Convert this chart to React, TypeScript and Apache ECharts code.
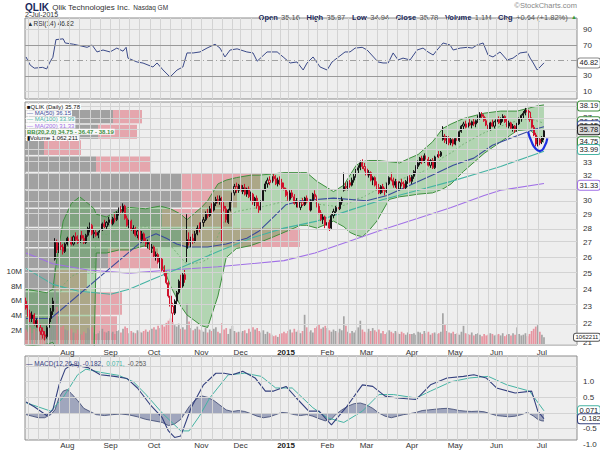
import React, { useEffect, useRef } from "react";
import * as echarts from "echarts";

// x = trading-day index: 0 = 3-Jul-2014 ... 251 = 2-Jul-2015
const monthStarts = [20, 41, 62, 85, 104, 126, 146, 165, 187, 208, 228, 250];
const monthLabels = ["Aug", "Sep", "Oct", "Nov", "Dec", "2015", "Feb", "Mar", "Apr", "May", "Jun", "Jul"];
const weekStarts = [1, 6, 11, 16, 21, 26, 31, 36, 41, 45, 50, 55, 60, 65, 70, 75, 80, 85, 90, 95, 100, 104, 109, 114, 119, 123, 127, 132, 137, 141, 146, 151, 156, 160, 165, 170, 175, 180, 185, 189, 194, 199, 204, 209, 214, 219, 224, 228, 233, 238, 243, 248];
const priceTicks = [21, 22, 23, 24, 25, 26, 27, 28, 29, 30, 31, 32, 33, 34, 35, 36, 37, 38];
const rsiTicks = [10, 30, 50, 70, 90];
const macdTicks = [-0.5, 0.5, 1];
const volTicks = [2, 4, 6, 8, 10];

// daily candles [open, high, low, close]
const jul14 = [
  [23.3, 23.5, 22.8, 22.9], [22.9, 23.1, 22.4, 22.6], [22.6, 22.8, 22.1, 22.3], [22.3, 22.7, 22.1, 22.5],
  [22.5, 22.6, 21.9, 22.0], [22.0, 22.3, 21.8, 22.2], [22.2, 22.4, 21.7, 21.8], [21.8, 22.0, 21.4, 21.6],
  [21.6, 21.8, 21.2, 21.4], [21.4, 21.6, 21.1, 21.3], [21.3, 21.9, 21.2, 21.8], [21.8, 22.4, 21.7, 22.3],
  [22.3, 22.9, 22.1, 22.7], [22.7, 23.5, 22.5, 23.3], [25.9, 27.3, 25.8, 27.0], [27.0, 27.2, 26.3, 26.5],
  [26.5, 27.0, 26.3, 26.8], [26.8, 27.1, 26.5, 26.7], [26.7, 26.9, 26.2, 26.4], [26.4, 27.0, 26.3, 26.9],
];
const aug14 = [
  [26.9, 27.4, 26.8, 27.3], [27.3, 27.6, 27.0, 27.1], [27.1, 27.4, 26.8, 26.9], [26.9, 27.5, 26.8, 27.4],
  [27.4, 27.7, 27.1, 27.2], [27.2, 27.5, 26.9, 27.0], [27.0, 27.6, 26.9, 27.5], [27.5, 27.8, 27.2, 27.3],
  [27.3, 27.5, 26.9, 27.0], [27.0, 27.6, 26.9, 27.5], [27.5, 28.1, 27.4, 28.0], [28.0, 28.4, 27.7, 28.2],
  [28.2, 28.3, 27.5, 27.6], [27.6, 27.9, 27.3, 27.7], [27.7, 27.9, 27.4, 27.5], [27.5, 27.8, 27.3, 27.7],
  [27.7, 28.0, 27.5, 27.9], [27.9, 28.4, 27.8, 28.3], [28.3, 28.6, 28.0, 28.1], [28.1, 28.5, 27.9, 28.4],
  [28.4, 28.8, 28.2, 28.6],
];
const sep14 = [
  [28.6, 28.9, 28.2, 28.3], [28.3, 28.8, 28.2, 28.7], [28.7, 29.0, 28.4, 28.6], [28.6, 29.2, 28.5, 29.1],
  [29.1, 29.5, 28.9, 29.3], [29.3, 29.6, 29.0, 29.2], [29.2, 29.8, 29.1, 29.6], [29.6, 29.7, 28.6, 28.7],
  [28.7, 28.9, 28.1, 28.2], [28.2, 28.6, 28.0, 28.5], [28.5, 28.6, 27.8, 27.9], [27.9, 28.2, 27.6, 28.0],
  [28.0, 28.1, 27.4, 27.5], [27.5, 27.9, 27.3, 27.8], [27.8, 27.9, 27.1, 27.2], [27.2, 27.8, 27.0, 27.6],
  [27.6, 27.7, 27.0, 27.1], [27.1, 27.3, 26.7, 26.9], [26.9, 27.2, 26.6, 27.0], [27.0, 27.1, 26.5, 26.6],
  [26.6, 26.9, 26.3, 26.7],
];
const oct14 = [
  [26.7, 26.8, 26.0, 26.1], [26.1, 26.4, 25.8, 26.2], [26.2, 26.3, 25.6, 25.7], [25.7, 26.0, 25.3, 25.9],
  [25.9, 26.0, 25.1, 25.2], [25.2, 25.5, 24.8, 25.0], [25.0, 25.1, 24.3, 24.4], [24.4, 24.5, 23.5, 23.6],
  [23.6, 23.8, 22.9, 23.0], [23.0, 23.2, 22.1, 22.6], [22.6, 23.4, 22.5, 23.3], [23.3, 23.9, 23.1, 23.8],
  [23.8, 24.6, 23.7, 24.5], [24.5, 24.9, 24.0, 24.2], [24.2, 25.0, 24.1, 24.9], [24.9, 25.2, 24.4, 24.6],
  [26.6, 29.0, 25.7, 27.2], [27.2, 27.7, 26.8, 27.0], [27.0, 27.4, 26.7, 27.3], [27.3, 27.6, 26.9, 27.1],
  [27.1, 27.8, 27.0, 27.6], [27.6, 28.2, 27.5, 28.0], [28.0, 28.4, 27.7, 27.9],
];
const nov14 = [
  [27.9, 28.6, 27.8, 28.4], [28.4, 28.8, 28.1, 28.6], [28.6, 29.2, 28.5, 29.0], [29.0, 29.4, 28.7, 28.9],
  [28.9, 29.6, 28.8, 29.4], [29.4, 29.8, 29.1, 29.3], [29.3, 29.9, 29.2, 29.8], [29.8, 30.3, 29.6, 30.1],
  [30.1, 30.4, 29.8, 30.0], [30.0, 30.4, 29.7, 30.2], [30.2, 30.3, 27.0, 29.6], [29.6, 29.9, 29.2, 29.4],
  [29.4, 29.6, 28.4, 28.6], [28.4, 29.4, 28.3, 29.3], [29.3, 30.0, 29.2, 29.9], [29.9, 30.8, 29.8, 30.6],
  [30.6, 31.3, 30.4, 31.1], [31.1, 31.4, 30.6, 30.8], [30.8, 31.3, 30.6, 31.2],
];
const dec14 = [
  [31.2, 31.4, 30.6, 30.7], [30.7, 31.2, 30.5, 31.0], [31.0, 31.3, 30.4, 30.5], [30.5, 31.0, 30.3, 30.9],
  [30.9, 31.1, 30.2, 30.3], [30.3, 30.7, 30.0, 30.5], [30.5, 30.6, 29.7, 29.9], [29.9, 30.3, 29.6, 30.2],
  [30.2, 30.4, 29.4, 29.6], [29.6, 29.9, 29.1, 29.3], [29.3, 30.2, 29.2, 30.0], [30.0, 30.9, 29.9, 30.8],
  [30.8, 31.5, 30.7, 31.3], [31.3, 31.8, 31.0, 31.6], [31.6, 31.9, 31.2, 31.4], [31.4, 32.0, 31.3, 31.9],
  [31.9, 32.1, 31.5, 31.7], [31.7, 32.0, 31.2, 31.3], [31.3, 31.8, 31.1, 31.6], [31.6, 31.9, 31.2, 31.4],
  [31.4, 31.7, 30.9, 31.0], [31.0, 31.4, 30.8, 30.9],
];
const jan15 = [
  [30.9, 31.0, 30.3, 30.4], [30.4, 30.7, 30.0, 30.1], [30.1, 30.8, 30.0, 30.6], [30.6, 30.9, 30.2, 30.3],
  [30.3, 30.5, 29.7, 29.8], [29.8, 30.2, 29.5, 30.0], [30.0, 30.1, 29.4, 29.5], [29.5, 30.0, 29.3, 29.9],
  [29.9, 30.2, 29.6, 29.7], [29.7, 30.3, 29.6, 30.2], [30.2, 30.4, 29.8, 29.9], [29.9, 30.0, 29.2, 29.3],
  [29.3, 30.1, 29.2, 30.0], [30.0, 30.6, 29.9, 30.5], [30.5, 30.8, 30.1, 30.3], [30.3, 30.4, 29.5, 29.6],
  [29.6, 29.8, 29.0, 29.1], [29.1, 29.3, 28.5, 28.6], [28.6, 29.0, 28.3, 28.8], [28.8, 28.9, 28.0, 28.2],
];
const feb15 = [
  [28.2, 28.5, 27.6, 28.4], [28.4, 28.6, 27.8, 28.0], [28.0, 29.0, 27.9, 28.9], [28.9, 29.4, 28.7, 29.2],
  [29.2, 29.6, 29.0, 29.5], [29.5, 29.8, 29.2, 29.4], [29.4, 30.0, 29.3, 29.9], [29.9, 30.3, 29.7, 30.1],
  [30.8, 32.2, 30.7, 31.1], [31.1, 31.4, 30.8, 31.0], [31.0, 31.5, 30.8, 31.4], [31.4, 31.6, 31.0, 31.2],
  [31.2, 31.8, 31.1, 31.6], [31.6, 32.1, 31.4, 31.9], [31.9, 32.5, 31.8, 32.4], [32.4, 32.8, 32.1, 32.6],
  [32.6, 33.2, 32.4, 33.0], [33.0, 33.3, 32.5, 32.7], [32.7, 33.0, 32.3, 32.5],
];
const mar15 = [
  [32.5, 32.7, 31.9, 32.0], [32.0, 32.4, 31.8, 32.2], [32.2, 32.3, 31.5, 31.6], [31.6, 31.9, 31.2, 31.8],
  [31.8, 31.9, 31.1, 31.2], [31.2, 31.5, 30.8, 31.0], [31.0, 31.3, 30.5, 30.6], [30.6, 31.2, 30.5, 31.1],
  [31.1, 31.3, 30.6, 30.8], [30.8, 31.0, 30.4, 30.7], [30.7, 31.4, 30.6, 31.3], [31.3, 31.9, 31.2, 31.8],
  [31.8, 32.2, 31.5, 31.6], [31.6, 31.8, 31.0, 31.2], [31.2, 31.7, 31.0, 31.5], [31.5, 31.6, 30.8, 30.9],
  [30.9, 31.5, 30.8, 31.4], [31.4, 31.7, 31.1, 31.3], [31.3, 31.5, 30.9, 31.0], [31.0, 31.6, 30.9, 31.5],
  [31.5, 31.9, 31.3, 31.8], [31.8, 32.0, 31.4, 31.5],
];
const apr15 = [
  [31.5, 32.0, 31.3, 31.9], [31.9, 32.4, 31.7, 32.3], [32.3, 32.8, 32.1, 32.7], [32.7, 33.2, 32.5, 33.0],
  [33.0, 33.5, 32.8, 33.4], [33.4, 33.6, 32.9, 33.1], [33.1, 33.8, 33.0, 33.6], [33.6, 33.9, 33.2, 33.3],
  [33.3, 33.5, 32.7, 32.8], [32.8, 33.3, 32.6, 33.2], [33.2, 33.4, 32.5, 32.6], [32.6, 33.6, 32.5, 33.5],
  [33.5, 33.9, 33.3, 33.7], [33.7, 34.0, 33.4, 33.6], [33.6, 34.0, 33.5, 33.9], [35.0, 36.2, 34.9, 35.3],
  [35.3, 35.5, 34.7, 34.9], [34.9, 35.3, 34.6, 35.1], [35.1, 35.3, 34.5, 34.7], [34.7, 35.2, 34.5, 35.0],
  [35.0, 35.1, 34.4, 34.6],
];
const may15 = [
  [34.6, 35.2, 34.5, 35.1], [35.1, 35.4, 34.8, 34.9], [34.9, 35.8, 34.8, 35.7], [35.7, 36.3, 35.6, 36.2],
  [36.2, 36.6, 35.9, 36.4], [36.4, 36.7, 36.0, 36.1], [36.1, 36.6, 35.9, 36.5], [36.5, 36.9, 36.2, 36.3],
  [36.3, 36.7, 36.0, 36.6], [36.6, 36.9, 36.2, 36.4], [36.4, 36.8, 36.1, 36.7], [36.7, 37.2, 36.5, 37.0],
  [37.0, 37.5, 36.8, 37.3], [37.3, 37.5, 36.9, 37.1], [37.1, 37.3, 36.6, 36.7], [36.7, 37.0, 36.2, 36.3],
  [36.3, 36.6, 35.8, 35.9], [35.9, 36.6, 35.8, 36.5], [36.5, 36.8, 36.1, 36.2], [36.2, 36.7, 36.0, 36.6],
];
const jun15 = [
  [36.6, 37.0, 36.3, 36.8], [36.8, 37.1, 36.4, 36.5], [36.5, 37.0, 36.3, 36.9], [36.9, 37.3, 36.6, 37.1],
  [37.1, 37.2, 36.5, 36.6], [36.6, 36.9, 36.1, 36.2], [36.2, 36.7, 36.0, 36.5], [36.5, 36.6, 35.9, 36.0],
  [36.0, 36.4, 35.7, 36.2], [36.2, 36.3, 35.6, 35.8], [35.8, 36.5, 35.7, 36.4], [36.4, 37.0, 36.3, 36.9],
  [36.9, 37.3, 36.6, 37.2], [37.2, 37.6, 36.9, 37.4], [37.4, 37.9, 37.2, 37.7], [37.7, 38.1, 37.3, 37.5],
  [37.5, 37.6, 36.6, 36.8], [36.8, 37.0, 36.0, 36.1], [36.1, 36.3, 35.3, 35.4], [35.4, 35.6, 34.4, 34.6],
  [34.6, 35.2, 34.4, 35.0], [35.0, 35.1, 34.5, 34.7],
];
const jul15 = [[34.8, 35.3, 34.6, 35.14], [35.16, 35.87, 34.94, 35.78]];

// daily volume, millions
const volJul14 = [2.1, 1.8, 2.4, 1.6, 2.2, 1.9, 2.5, 2.0, 2.3, 1.8, 2.0, 2.6, 2.4, 4.0, 10.6, 5.2, 3.0, 2.4, 2.6, 2.1];
const volAug14 = [2.0, 1.9, 2.2, 1.7, 1.6, 2.1, 1.5, 1.4, 1.8, 1.6, 2.3, 2.1, 2.4, 1.7, 1.5, 1.6, 1.9, 2.2, 1.8, 1.7, 1.9];
const volSep14 = [1.6, 1.8, 1.5, 1.9, 2.0, 1.7, 2.2, 2.5, 2.3, 1.6, 1.9, 1.7, 1.6, 2.0, 1.8, 1.7, 1.9, 2.1, 1.8, 2.0, 2.2];
const volOct14 = [2.4, 2.1, 2.6, 2.3, 2.8, 2.5, 3.0, 3.3, 3.6, 3.1, 2.7, 2.5, 2.9, 2.2, 2.4, 2.1, 5.6, 3.2, 2.3, 2.0, 2.2, 2.5, 2.1];
const volNov14 = [2.0, 1.8, 2.3, 1.7, 2.1, 1.9, 2.2, 2.4, 1.8, 1.6, 3.0, 2.1, 2.3, 1.5, 2.2, 2.6, 1.9, 1.7, 1.8];
const volDec14 = [1.7, 1.9, 2.0, 1.6, 2.2, 1.8, 2.4, 2.1, 2.3, 1.9, 1.7, 2.0, 1.5, 1.8, 1.6, 1.4, 1.2, 1.3, 1.1, 1.5, 1.6, 1.8];
const volJan15 = [1.6, 1.9, 2.1, 1.7, 2.2, 1.8, 2.0, 1.6, 1.9, 4.1, 2.4, 1.8, 2.0, 1.7, 2.3, 2.5, 2.8, 2.2, 2.4, 2.6];
const volFeb15 = [2.3, 2.0, 1.8, 2.1, 1.9, 1.7, 2.2, 2.0, 3.9, 2.6, 1.8, 1.6, 1.9, 1.7, 2.0, 2.4, 3.3, 2.1, 1.8];
const volMar15 = [1.7, 2.2, 1.9, 2.3, 2.0, 1.8, 2.1, 1.6, 1.9, 1.5, 1.7, 2.0, 1.8, 1.6, 1.9, 1.7, 1.5, 1.8, 1.6, 1.4, 1.7, 1.5];
const volApr15 = [1.5, 1.6, 1.4, 1.8, 1.7, 1.5, 1.9, 1.6, 1.8, 1.4, 1.6, 1.7, 1.5, 1.6, 1.8, 4.3, 2.8, 1.9, 1.7, 1.6, 1.8];
const volMay15 = [1.5, 1.6, 1.4, 1.8, 2.6, 1.6, 1.5, 1.4, 1.7, 1.3, 1.5, 1.6, 1.4, 1.2, 1.5, 1.3, 1.4, 1.6, 1.5, 1.3];
const volJun15 = [1.4, 1.5, 1.3, 1.6, 1.2, 1.4, 1.5, 1.3, 1.6, 1.4, 2.4, 1.5, 1.3, 1.4, 1.6, 1.2, 1.5, 1.9, 2.2, 2.5, 2.7, 1.8];
const volJul15 = [1.4, 1.062211];

// moving averages [day, price]
const ma50 = [[0, 22.3], [12, 22.3], [36, 24.8], [58, 27.3], [63, 27.6], [68, 27.3], [73, 26.9], [78, 26.7], [88, 26.7], [97, 26.9], [107, 27.3], [113, 27.8], [120, 28.8], [126, 29.7], [133, 30.0], [149, 30.2], [165, 30.0], [175, 30.4], [186, 31.2], [197, 32.0], [207, 32.8], [217, 33.4], [226, 34.5], [236, 35.2], [246, 35.9], [251, 36.15]];
const ma100 = [[0, 25.3], [13, 24.3], [25, 23.9], [41, 23.7], [50, 24.0], [61, 24.6], [76, 25.4], [93, 26.4], [109, 27.3], [125, 28.0], [141, 28.5], [157, 29.3], [173, 30.1], [190, 30.8], [206, 31.5], [222, 32.3], [230, 32.7], [251, 33.99]];
const ma200 = [[0, 26.3], [13, 25.6], [30, 25.2], [50, 25.0], [70, 25.2], [93, 25.4], [125, 25.8], [140, 26.3], [157, 27.1], [173, 27.9], [190, 28.7], [206, 29.5], [222, 30.4], [230, 30.8], [251, 31.33]];

// Bollinger bands (20, 2.0)
const bbDays = [0, 10, 13, 15, 18, 22, 26, 30, 33, 34, 39, 45, 50, 58, 65, 70, 75, 78, 85, 88, 93, 97, 102, 109, 113, 120, 125, 133, 136, 141, 149, 154, 157, 160, 163, 166, 170, 176, 181, 186, 190, 197, 202, 206, 212, 222, 230, 238, 244, 248, 251];
const bbLower = [20.8, 20.9, 21.0, 20.6, 20.0, 19.8, 19.8, 20.2, 20.6, 26.3, 26.3, 26.5, 26.5, 26.8, 25.9, 24.2, 23.0, 22.5, 21.9, 21.8, 23.6, 26.0, 26.6, 26.8, 27.0, 27.4, 27.7, 28.2, 28.2, 28.0, 28.5, 28.1, 27.7, 27.5, 27.4, 27.8, 28.5, 30.1, 30.3, 30.4, 30.5, 30.6, 30.9, 31.3, 32.3, 33.8, 34.8, 35.8, 35.9, 35.2, 34.75];
const bbUpper = [24.0, 23.8, 24.0, 26.0, 28.5, 29.8, 30.3, 29.8, 29.4, 29.0, 28.8, 29.3, 29.5, 29.4, 29.6, 29.4, 29.0, 28.6, 29.5, 30.0, 31.3, 31.6, 31.8, 32.0, 32.0, 32.1, 32.2, 32.2, 32.2, 31.5, 30.7, 31.2, 32.0, 32.8, 33.1, 33.2, 33.2, 33.1, 33.0, 33.4, 33.7, 34.8, 36.0, 36.4, 36.9, 37.4, 37.6, 37.6, 37.9, 38.1, 38.19];

// volume by price: zone edges (price), two volume parts per zone
const vbpEdges = [21.1, 22.49, 23.88, 25.28, 26.67, 28.06, 29.45, 30.84, 32.23, 33.63, 35.02, 36.41, 37.8];
const vbpGray = [35, 35, 30, 83, 157, 137, 156, 156, 71, 19, 73, 88];
const vbpRed = [57, 62, 32, 50, 118, 71, 56, 79, 55, 37, 39, 29];

// RSI(14)
const rsi = [[0, 54.5], [2, 44], [4, 40], [8, 41], [10, 39], [12, 50], [13, 54], [14.5, 77], [18, 78], [19, 72.6], [23, 71], [29.6, 67], [32, 70], [34.4, 61], [37.3, 63.5], [40.7, 61], [44, 66], [47, 62], [48.5, 67], [49.4, 53], [53.8, 48], [56.7, 46.6], [61.5, 41.5], [63.5, 46.7], [66.4, 37.6], [69.8, 28.5], [73.2, 37.6], [76, 41.5], [78, 59.7], [81, 59.7], [84.3, 61], [87.7, 66], [91.6, 71], [94, 66], [96.4, 54.5], [98.9, 63.5], [102.3, 65], [107, 61], [110, 59.7], [112, 49], [116.8, 61], [121.7, 61], [124.6, 54.5], [128, 46.7], [131.3, 48], [134.3, 37.6], [136.2, 46.7], [139.1, 54.5], [142.5, 41.5], [145.9, 37.6], [148.3, 48], [150.7, 53], [154.6, 61], [157, 61], [159.5, 66], [162.9, 67], [165.3, 63.5], [170.6, 48], [173, 46.7], [175.5, 46.7], [177.9, 59.7], [180.3, 50.6], [182.7, 53], [186.1, 50.6], [189.5, 63.5], [192.4, 66], [194.8, 61], [197.3, 57], [199.2, 63.5], [202.1, 72.6], [205.5, 70], [207, 63.5], [210.4, 66], [213.8, 67], [216.2, 66], [218.6, 70], [221.5, 72.6], [223.9, 57], [226.3, 54.5], [229.7, 61], [233.1, 50.6], [236, 53], [239.4, 59.7], [242.8, 61], [244.3, 53], [245.8, 46.7], [247.7, 37.6], [249.1, 41.5], [251, 46.82]];

// MACD(12,26,9)
const macdLine = [[0, 0.35], [4, 0.2], [10, -0.08], [13, 0.1], [16, 0.9], [19, 1.4], [22, 1.55], [30, 1.45], [36, 1.22], [43, 1.17], [49, 1.1], [54, 0.8], [60, 0.28], [66, -0.15], [69, -0.57], [72, -0.78], [75, -0.73], [80, 0.17], [86, 0.9], [92, 1.27], [96, 1.27], [100, 1.22], [105, 1.33], [111, 1.12], [116, 0.7], [120, 0.7], [126, 0.85], [131, 0.48], [137, 0.06], [142, 0.06], [148, -0.38], [155, 0.17], [163, 0.9], [168, 0.85], [174, 0.54], [180, 0.48], [189, 0.43], [196, 0.9], [204, 1.12], [212, 1.17], [217, 1.22], [223, 1.12], [228, 0.8], [237, 0.64], [245, 0.7], [248, 0.06], [251, -0.182]];
const macdSignal = [[0, 0.33], [12, 0.06], [18, 0.5], [25, 1.22], [29, 1.4], [36, 1.3], [45, 1.2], [52, 1.0], [58, 0.6], [66, 0.0], [75, -0.57], [79, -0.57], [84, -0.1], [89, 0.48], [98, 1.22], [106, 1.27], [114, 1.17], [121, 0.8], [129, 0.8], [139, 0.17], [146, -0.15], [154, -0.3], [163, 0.06], [171, 0.59], [178, 0.59], [189, 0.48], [196, 0.7], [206, 1.0], [215, 1.12], [224, 1.17], [233, 0.9], [244, 0.7], [251, 0.071]];
const macdHist = [[0, -0.05], [3, -0.1], [6, -0.15], [9, -0.15], [12, -0.05], [14, 0.1], [16, 0.5], [18, 0.7], [20, 0.75], [22, 0.62], [25, 0.4], [28, 0.15], [31, 0.05], [34, -0.05], [38, -0.08], [42, -0.05], [46, -0.03], [50, -0.06], [54, -0.12], [58, -0.2], [62, -0.25], [66, -0.3], [69, -0.4], [72, -0.35], [75, -0.2], [77, 0.0], [79, 0.2], [82, 0.42], [85, 0.55], [88, 0.5], [91, 0.4], [94, 0.25], [97, 0.1], [100, 0.05], [103, 0.08], [106, 0.05], [109, -0.02], [112, -0.1], [115, -0.15], [118, -0.12], [121, -0.05], [124, 0.02], [127, 0.0], [130, -0.05], [133, -0.08], [136, -0.05], [139, -0.1], [142, -0.18], [145, -0.25], [148, -0.2], [150, -0.05], [153, 0.1], [156, 0.22], [159, 0.3], [162, 0.32], [165, 0.26], [168, 0.15], [171, 0.0], [174, -0.1], [177, -0.15], [180, -0.1], [183, -0.05], [186, -0.02], [189, 0.02], [192, 0.08], [195, 0.1], [198, 0.12], [201, 0.14], [204, 0.15], [207, 0.12], [210, 0.08], [213, 0.06], [216, 0.05], [219, 0.06], [222, 0.04], [225, -0.02], [228, -0.08], [231, -0.1], [234, -0.12], [237, -0.1], [240, -0.05], [243, 0.02], [246, -0.1], [248, -0.2], [250, -0.25], [251, -0.253]];

// hand-drawn annotation arc [day, price]
const arc = [[243.3, 35.7], [245, 34.8], [247, 34.2], [249, 34.0], [251, 34.3], [252.6, 35.1]];

const FONT = "'Liberation Sans', Arial, sans-serif";
const L = (p: number) => Math.log(p);
const C_MA50 = "#3b4c9c";
const C_MA100 = "#45b3a3";
const C_MA200 = "#a070e6";
const C_BB = "#3f8f3f";
const C_UP = "#151515";
const C_DN = "#d0122c";

function buildOption() {
  const candles = [...jul14, ...aug14, ...sep14, ...oct14, ...nov14, ...dec14, ...jan15, ...feb15, ...mar15, ...apr15, ...may15, ...jun15, ...jul15];
  const volumes = [...volJul14, ...volAug14, ...volSep14, ...volOct14, ...volNov14, ...volDec14, ...volJan15, ...volFeb15, ...volMar15, ...volApr15, ...volMay15, ...volJun15, ...volJul15];
  const isUp = (i: number) => candles[i][3] >= (i > 0 ? candles[i - 1][3] : candles[i][0]);

  const candleData = candles.map((c, i) => {
    const col = isUp(i) ? C_UP : C_DN;
    return {
      value: [i, L(c[0]), L(c[3]), L(c[2]), L(c[1])],
      itemStyle: { color: "rgba(0,0,0,0)", borderColor: col, color0: col, borderColor0: col, borderWidth: 1 },
    };
  });
  const volData = volumes.map((v, i) => ({
    value: [i, v],
    itemStyle: { color: isUp(i) ? "rgba(150,150,150,0.85)" : "rgba(228,125,140,0.8)" },
  }));
  const logPts = (arr: number[][]) => arr.map((p) => [p[0], L(p[1])]);

  const monthLabel = {
    customValues: monthStarts,
    formatter: (v: number) => {
      const s = monthLabels[monthStarts.indexOf(v)];
      return s === "2015" ? "{b|2015}" : s;
    },
    rich: { b: { fontWeight: "bold", fontSize: 8, color: "#222", fontFamily: FONT } },
    fontSize: 8,
    color: "#333",
    margin: 3,
    fontFamily: FONT,
  };
  const xBase = { type: "value", min: -0.5, max: 267, axisLine: { show: false }, axisTick: { show: false }, splitLine: { show: false } };
  const yBase = { type: "value", axisLine: { show: false }, axisTick: { show: false }, splitLine: { show: false } };
  const tickLabel = { fontSize: 8, color: "#333", margin: 6, fontFamily: FONT };

  const box = (txt: string, col: string, fill = "#fff", textCol = "#222", size = 7.5, dist = 1) => ({
    show: true, position: "end", distance: dist, formatter: txt, fontSize: size, color: textCol, fontFamily: FONT,
    backgroundColor: fill, borderColor: col, borderWidth: 1, borderRadius: 2, padding: [1, 1.5, 0, 1.5],
  });
  const boxML = (v: number, label: any) => ({
    silent: true, symbol: ["none", "none"],
    data: [{ yAxis: v, lineStyle: { color: "rgba(0,0,0,0)", width: 0 }, label }],
  });

  const vLines = weekStarts.map((d) => ({ xAxis: d }));
  const helper = (xi: number, yi: number, extra: any[]) => ({
    type: "line", xAxisIndex: xi, yAxisIndex: yi, data: [], z: 0, silent: true,
    markLine: {
      silent: true, symbol: ["none", "none"], label: { show: false },
      lineStyle: { color: "#d3d3d3", width: 1, type: "solid" },
      data: [...vLines, ...extra],
    },
  });

  const rsiLines = [
    { yAxis: 10 }, { yAxis: 90 },
    { yAxis: 30, lineStyle: { color: "#9a9a9a", width: 1, type: "solid" } },
    { yAxis: 70, lineStyle: { color: "#9a9a9a", width: 1, type: "solid" } },
    { yAxis: 50, lineStyle: { color: "#a0a0a0", width: 1, type: [6, 3, 1, 3] } },
  ];
  const priceLines = priceTicks.map((p) => ({ yAxis: L(p) }));
  const macdLines = [-0.5, 0, 0.5, 1, 1.5].map((v) => ({ yAxis: v }));

  const line = (xi: number, yi: number, data: any[], color: string, width = 1, z = 3, extra: any = {}) => ({
    type: "line", xAxisIndex: xi, yAxisIndex: yi, data, showSymbol: false, silent: true, z,
    lineStyle: { color, width }, ...extra,
  });

  return {
    animation: false,
    backgroundColor: "#ffffff",
    grid: [
      { left: 25, right: 23, top: 18, height: 81 },
      { left: 25, right: 23, top: 102, height: 243 },
      { left: 25, right: 23, top: 356, height: 84 },
    ].map((g) => ({ ...g, show: true, backgroundColor: "#eeeeee", borderColor: "#8c8c8c", borderWidth: 1 })),
    xAxis: [
      { ...xBase, gridIndex: 0, axisLabel: { show: false } },
      { ...xBase, gridIndex: 1, axisLabel: monthLabel },
      { type: "value", gridIndex: 1, min: 0, max: 552, show: false },
      { ...xBase, gridIndex: 2, axisLabel: { ...monthLabel, margin: 1 } },
    ],
    yAxis: [
      { ...yBase, gridIndex: 0, min: 0, max: 105, position: "right", axisLabel: { ...tickLabel, customValues: rsiTicks } },
      {
        ...yBase, gridIndex: 1, min: L(20.86), max: L(38.47), position: "right",
        axisLabel: { ...tickLabel, customValues: priceTicks.map(L), formatter: (v: number) => String(Math.round(Math.exp(v))) },
      },
      {
        ...yBase, gridIndex: 1, min: 0, max: 33, position: "left",
        axisLabel: { ...tickLabel, margin: 3, customValues: volTicks, formatter: (v: number) => v + "M" },
      },
      {
        ...yBase, gridIndex: 2, min: -0.86, max: 1.82, position: "right",
        axisLabel: { ...tickLabel, customValues: macdTicks, formatter: (v: number) => v.toFixed(1) },
      },
    ],
    series: [
      helper(0, 0, rsiLines),
      helper(1, 1, priceLines),
      helper(3, 3, macdLines),
      // volume by price
      {
        type: "custom", xAxisIndex: 2, yAxisIndex: 1, z: 1, silent: true,
        data: vbpGray.map((_, i) => [i]),
        renderItem: (params: any, api: any) => {
          const i = api.value(0);
          const top = api.coord([0, L(vbpEdges[i + 1])]);
          const g = api.coord([vbpGray[i], L(vbpEdges[i])]);
          const r = api.coord([vbpGray[i] + vbpRed[i], L(vbpEdges[i])]);
          const y = top[1] + 1;
          const h = g[1] - top[1] - 1.5;
          return {
            type: "group",
            children: [
              { type: "rect", shape: { x: top[0], y, width: g[0] - top[0], height: h }, style: { fill: "rgba(150,150,150,0.88)" } },
              { type: "rect", shape: { x: g[0], y, width: r[0] - g[0], height: h }, style: { fill: "rgba(224,118,130,0.6)" } },
            ],
          };
        },
      },
      // Bollinger fill
      {
        type: "custom", xAxisIndex: 1, yAxisIndex: 1, z: 2, silent: true, clip: true,
        data: [[0]],
        renderItem: (params: any, api: any) => {
          const up = bbDays.map((d, k) => api.coord([d, L(bbUpper[k])]));
          const lo = bbDays.map((d, k) => api.coord([d, L(bbLower[k])])).reverse();
          return { type: "polygon", shape: { points: up.concat(lo) }, style: { fill: "rgba(72,168,72,0.36)" } };
        },
      },
      // volume bars
      { type: "bar", xAxisIndex: 1, yAxisIndex: 2, data: volData, barWidth: 1.7, z: 2, silent: true,
        markLine: boxML(1.062211, box("1062211", "#555", "#fff", "#222", 6, -3)) },
      line(1, 1, bbDays.map((d, k) => [d, L(bbUpper[k])]), C_BB, 1, 3, { markLine: boxML(L(38.19), box("38.19", C_BB)) }),
      line(1, 1, bbDays.map((d, k) => [d, L(bbLower[k])]), C_BB, 1, 3, { markLine: boxML(L(34.75), box("34.75", C_BB)) }),
      line(1, 1, bbDays.map((d, k) => [d, L((bbUpper[k] + bbLower[k]) / 2)]), "#6fa86f", 0.8, 3, {
        lineStyle: { color: "#6fa86f", width: 0.8, type: [2, 2] },
        markLine: boxML(L(36.47), box("36.47", C_BB)),
      }),
      line(1, 1, logPts(ma200), C_MA200, 1.1, 3, { markLine: boxML(L(31.33), box("31.33", C_MA200)) }),
      line(1, 1, logPts(ma100), C_MA100, 1.1, 3, { markLine: boxML(L(33.99), box("33.99", C_MA100)) }),
      line(1, 1, logPts(ma50), C_MA50, 1.1, 3, { markLine: boxML(L(36.15), box("36.15", C_MA50)) }),
      {
        type: "candlestick", xAxisIndex: 1, yAxisIndex: 1, z: 4, silent: true, barWidth: 1.6,
        dimensions: ["d", "open", "close", "lowest", "highest"],
        encode: { x: "d", y: ["open", "close", "lowest", "highest"] },
        data: candleData,
        markLine: boxML(L(35.78), box("35.78", "#222", "#d8d8d8", "#111")),
      },
      line(1, 1, logPts(arc), "#1c2fe0", 2.2, 5, { smooth: 0.6 }),
      // RSI
      line(0, 0, rsi, "#3b4a88", 1, 3, { markLine: boxML(46.82, box("46.82", "#888")) }),
      // MACD
      line(3, 3, macdHist, "#3a4570", 0.8, 2, { areaStyle: { color: "rgba(90,100,145,0.75)" } }),
      line(3, 3, macdSignal, "#45b3a3", 1, 3, { markLine: boxML(0.071, box("0.071", "#45b3a3")) }),
      line(3, 3, macdLine, "#34407e", 1.1, 3, { markLine: boxML(-0.182, box("-0.182", "#34407e")) }),
    ],
    graphic: [
      {
        type: "text", x: 25, y: 1, silent: true,
        style: {
          text: "{a|QLIK} {b|Qlik Technologies Inc.} {c|Nasdaq GM}",
          rich: {
            a: { fontSize: 10, fontWeight: "bold", fill: "#1b2a5c", fontFamily: FONT },
            b: { fontSize: 8, fill: "#333", fontFamily: FONT },
            c: { fontSize: 6.5, fill: "#333", fontFamily: FONT },
          },
        },
      },
      { type: "text", x: 25, y: 11, silent: true, style: { text: "2-Jul-2015", fontSize: 7, fill: "#333", fontFamily: FONT } },
      { type: "text", x: 577, y: 1, silent: true, style: { text: "©StockCharts.com", align: "right", textAlign: "right", fontSize: 7.5, fill: "#888", fontFamily: FONT } },
      {
        type: "text", x: 577, y: 11, silent: true,
        style: {
          text: "{k|Open} {v|35.16}  {k|High} {v|35.87}  {k|Low} {v|34.94}  {k|Close} {v|35.78}  {k|Volume} {v|1.1M}  {k|Chg} {v|+0.64 (+1.82%)} {g|▲}",
          align: "right", textAlign: "right",
          rich: {
            k: { fontSize: 7.5, fontWeight: "bold", fill: "#1b2a5c", fontFamily: FONT },
            v: { fontSize: 7.5, fill: "#555", fontFamily: FONT },
            g: { fontSize: 6, fill: "#3a9a3a", fontFamily: FONT },
          },
        },
      },
      { type: "text", x: 27, y: 20, silent: true, style: { text: "▲RSI(14) 46.82", fontSize: 6.5, fill: "#333", fontFamily: FONT } },
      // tick label of the MACD axis drawn just below its panel, as in the reference
      { type: "text", x: 583, y: 444, silent: true, style: { text: "-1.0", fontSize: 8, fill: "#333", fontFamily: FONT, verticalAlign: "middle" } },
      ...[
        ["■QLIK (Daily) 35.78", "#111", "normal"],
        ["— MA(50) 36.15", C_MA50, "normal"],
        ["— MA(100) 33.99", C_MA100, "normal"],
        ["— MA(200) 31.33", C_MA200, "normal"],
        ["BB(20,2.0) 34.75 - 36.47 - 38.19", C_BB, "bold"],
        ["▮Volume 1,062,211", "#111", "normal"],
      ].map((t, k) => ({
        type: "text", x: 26, y: 104 + k * 6.2, silent: true, z: 10,
        style: { text: t[0], fill: t[1], fontWeight: t[2], fontSize: 6, fontFamily: FONT, backgroundColor: "rgba(255,255,255,0.92)", padding: [0, 1] },
      })),
      {
        type: "text", x: 26, y: 357, silent: true, z: 10,
        style: {
          text: "{n|— MACD(12,26,9)} {a|-0.182,} {b|0.071,} {c|-0.253}",
          rich: {
            n: { fontSize: 6.5, fill: "#34407e", fontFamily: FONT },
            a: { fontSize: 6.5, fill: "#34407e", fontFamily: FONT },
            b: { fontSize: 6.5, fill: "#45b3a3", fontFamily: FONT },
            c: { fontSize: 6.5, fill: "#555", fontFamily: FONT },
          },
        },
      },
    ],
  };
}

export default function App() {
  const ref = useRef<HTMLDivElement>(null);
  useEffect(() => {
    const chart = echarts.init(ref.current as HTMLDivElement, null, { renderer: "svg" });
    chart.setOption(buildOption() as any);
    return () => chart.dispose();
  }, []);
  return <div ref={ref} style={{ position: "absolute", left: 0, top: 0, width: 600, height: 450 }} />;
}
